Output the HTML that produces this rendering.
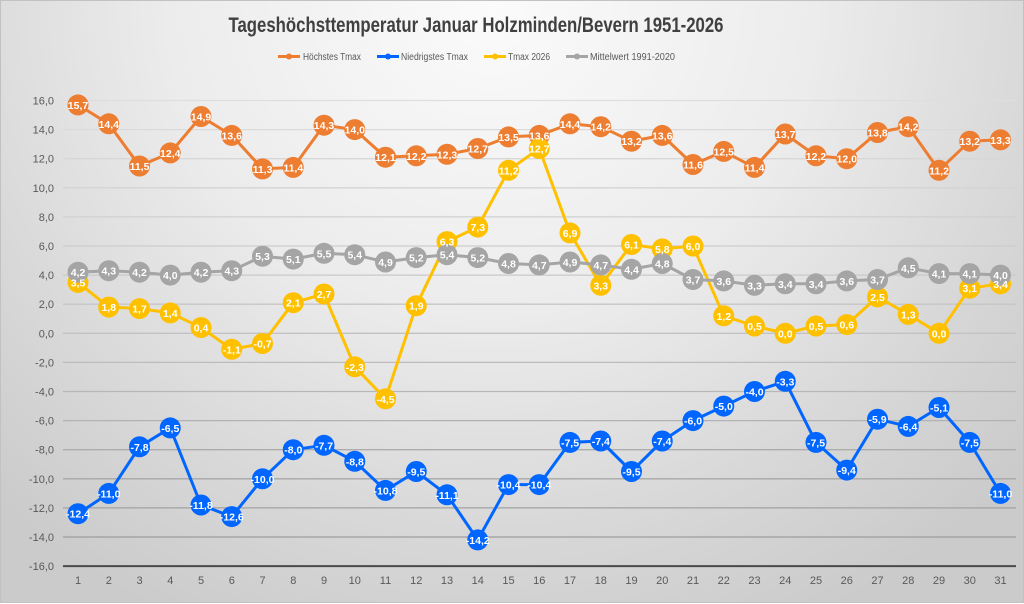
<!DOCTYPE html>
<html><head><meta charset="utf-8"><style>
html,body{margin:0;padding:0;}
body{width:1024px;height:603px;overflow:hidden;}
#c{position:relative;width:1022px;height:601px;border:1px solid #c2c2c2;background:radial-gradient(ellipse 70% 115% at 48% 0%,#fbfbfb 0%,#ececec 45%,#d6d6d6 80%,#cbcbcb 100%);}
svg{position:absolute;left:0;top:0;}
text{font-family:"Liberation Sans",sans-serif;}
.yl{font-size:11px;fill:#595959;text-anchor:end;}
.xl{font-size:11px;fill:#595959;text-anchor:middle;}
.lg{font-size:10px;fill:#595959;}
.dl{font-size:10.5px;font-weight:bold;fill:#fff;text-anchor:middle;}
</style></head><body><div id="c">
<svg width="1024" height="603" viewBox="0 0 1024 603">
<defs>
<linearGradient id="gg" gradientUnits="userSpaceOnUse" x1="0" y1="99" x2="0" y2="540">
<stop offset="0" stop-color="#dedede"/><stop offset="0.5" stop-color="#c4c4c4"/><stop offset="1" stop-color="#9c9c9c"/>
</linearGradient>
</defs>
<text x="475" y="31" font-size="21" font-weight="bold" fill="#404040" text-anchor="middle" textLength="495" lengthAdjust="spacingAndGlyphs">Tageshöchsttemperatur Januar Holzminden/Bevern 1951-2026</text>
<!-- legend -->
<line x1="277" y1="55.5" x2="299" y2="55.5" stroke="#ED7D31" stroke-width="3"/><circle cx="288" cy="55.5" r="3" fill="#ED7D31"/>
<text class="lg" x="302" y="59" textLength="58" lengthAdjust="spacingAndGlyphs">Höchstes Tmax</text>
<line x1="376" y1="55.5" x2="398" y2="55.5" stroke="#0066FF" stroke-width="3"/><circle cx="387" cy="55.5" r="3" fill="#0066FF"/>
<text class="lg" x="400" y="59" textLength="67" lengthAdjust="spacingAndGlyphs">Niedrigstes Tmax</text>
<line x1="483" y1="55.5" x2="505" y2="55.5" stroke="#FFC000" stroke-width="3"/><circle cx="494" cy="55.5" r="3" fill="#FFC000"/>
<text class="lg" x="507" y="59" textLength="42" lengthAdjust="spacingAndGlyphs">Tmax 2026</text>
<line x1="565" y1="55.5" x2="587" y2="55.5" stroke="#A5A5A5" stroke-width="3"/><circle cx="576" cy="55.5" r="3" fill="#A5A5A5"/>
<text class="lg" x="589" y="59" textLength="85" lengthAdjust="spacingAndGlyphs">Mittelwert 1991-2020</text>
<!-- grid -->
<g stroke="url(#gg)" stroke-width="1.3">
<line x1="62" x2="1015" y1="99.5" y2="99.5"/>
<line x1="62" x2="1015" y1="128.6" y2="128.6"/>
<line x1="62" x2="1015" y1="157.7" y2="157.7"/>
<line x1="62" x2="1015" y1="186.8" y2="186.8"/>
<line x1="62" x2="1015" y1="215.9" y2="215.9"/>
<line x1="62" x2="1015" y1="245" y2="245"/>
<line x1="62" x2="1015" y1="274.1" y2="274.1"/>
<line x1="62" x2="1015" y1="303.2" y2="303.2"/>
<line x1="62" x2="1015" y1="332.3" y2="332.3"/>
<line x1="62" x2="1015" y1="361.4" y2="361.4"/>
<line x1="62" x2="1015" y1="390.5" y2="390.5"/>
<line x1="62" x2="1015" y1="419.6" y2="419.6"/>
<line x1="62" x2="1015" y1="448.7" y2="448.7"/>
<line x1="62" x2="1015" y1="477.8" y2="477.8"/>
<line x1="62" x2="1015" y1="506.9" y2="506.9"/>
<line x1="62" x2="1015" y1="536" y2="536"/>
</g>
<line x1="62" x2="1015" y1="565.1" y2="565.1" stroke="#4a4a4a" stroke-width="2"/>
<!-- y labels -->
<g class="yl">
<text x="53" y="103.5">16,0</text>
<text x="53" y="132.6">14,0</text>
<text x="53" y="161.7">12,0</text>
<text x="53" y="190.8">10,0</text>
<text x="53" y="219.9">8,0</text>
<text x="53" y="249">6,0</text>
<text x="53" y="278.1">4,0</text>
<text x="53" y="307.2">2,0</text>
<text x="53" y="336.3">0,0</text>
<text x="53" y="365.4">-2,0</text>
<text x="53" y="394.5">-4,0</text>
<text x="53" y="423.6">-6,0</text>
<text x="53" y="452.7">-8,0</text>
<text x="53" y="481.8">-10,0</text>
<text x="53" y="510.9">-12,0</text>
<text x="53" y="540">-14,0</text>
<text x="53" y="569.1">-16,0</text>
</g>
<!-- x labels -->
<g class="xl">
<text x="77" y="583">1</text><text x="107.75" y="583">2</text><text x="138.5" y="583">3</text><text x="169.25" y="583">4</text><text x="200" y="583">5</text><text x="230.75" y="583">6</text><text x="261.5" y="583">7</text><text x="292.25" y="583">8</text><text x="323" y="583">9</text><text x="353.75" y="583">10</text><text x="384.5" y="583">11</text><text x="415.25" y="583">12</text><text x="446" y="583">13</text><text x="476.75" y="583">14</text><text x="507.5" y="583">15</text><text x="538.25" y="583">16</text><text x="569" y="583">17</text><text x="599.75" y="583">18</text><text x="630.5" y="583">19</text><text x="661.25" y="583">20</text><text x="692" y="583">21</text><text x="722.75" y="583">22</text><text x="753.5" y="583">23</text><text x="784.25" y="583">24</text><text x="815" y="583">25</text><text x="845.75" y="583">26</text><text x="876.5" y="583">27</text><text x="907.25" y="583">28</text><text x="938" y="583">29</text><text x="968.75" y="583">30</text><text x="999.5" y="583">31</text>
</g>
<!-- Orange series -->
<g fill="#ED7D31">
<polyline fill="none" stroke="#ED7D31" stroke-width="3" stroke-linejoin="round" points="77,103.9 107.75,122.8 138.5,165 169.25,151.9 200,115.5 230.75,134.4 261.5,167.9 292.25,166.4 323,124.2 353.75,128.6 384.5,156.2 415.25,154.8 446,153.3 476.75,147.5 507.5,135.9 538.25,134.4 569,122.8 599.75,125.7 630.5,140.2 661.25,134.4 692,163.5 722.75,150.4 753.5,166.4 784.25,133 815,154.8 845.75,157.7 876.5,131.5 907.25,125.7 938,169.3 968.75,140.2 999.5,138.8"/>
<circle cx="77" cy="103.9" r="10.5"/><circle cx="107.75" cy="122.8" r="10.5"/><circle cx="138.5" cy="165" r="10.5"/><circle cx="169.25" cy="151.9" r="10.5"/><circle cx="200" cy="115.5" r="10.5"/><circle cx="230.75" cy="134.4" r="10.5"/><circle cx="261.5" cy="167.9" r="10.5"/><circle cx="292.25" cy="166.4" r="10.5"/><circle cx="323" cy="124.2" r="10.5"/><circle cx="353.75" cy="128.6" r="10.5"/><circle cx="384.5" cy="156.2" r="10.5"/><circle cx="415.25" cy="154.8" r="10.5"/><circle cx="446" cy="153.3" r="10.5"/><circle cx="476.75" cy="147.5" r="10.5"/><circle cx="507.5" cy="135.9" r="10.5"/><circle cx="538.25" cy="134.4" r="10.5"/><circle cx="569" cy="122.8" r="10.5"/><circle cx="599.75" cy="125.7" r="10.5"/><circle cx="630.5" cy="140.2" r="10.5"/><circle cx="661.25" cy="134.4" r="10.5"/><circle cx="692" cy="163.5" r="10.5"/><circle cx="722.75" cy="150.4" r="10.5"/><circle cx="753.5" cy="166.4" r="10.5"/><circle cx="784.25" cy="133" r="10.5"/><circle cx="815" cy="154.8" r="10.5"/><circle cx="845.75" cy="157.7" r="10.5"/><circle cx="876.5" cy="131.5" r="10.5"/><circle cx="907.25" cy="125.7" r="10.5"/><circle cx="938" cy="169.3" r="10.5"/><circle cx="968.75" cy="140.2" r="10.5"/><circle cx="999.5" cy="138.8" r="10.5"/>
</g>
<!-- Blue series -->
<g fill="#0066FF">
<polyline fill="none" stroke="#0066FF" stroke-width="3" stroke-linejoin="round" points="77,512.7 107.75,492.4 138.5,445.8 169.25,426.9 200,504 230.75,515.6 261.5,477.8 292.25,448.7 323,444.3 353.75,460.3 384.5,489.4 415.25,470.5 446,493.8 476.75,538.9 507.5,483.6 538.25,483.6 569,441.4 599.75,440 630.5,470.5 661.25,440 692,419.6 722.75,405.1 753.5,390.5 784.25,380.3 815,441.4 845.75,469.1 876.5,418.2 907.25,425.4 938,406.5 968.75,441.4 999.5,492.4"/>
<circle cx="77" cy="512.7" r="10.5"/><circle cx="107.75" cy="492.4" r="10.5"/><circle cx="138.5" cy="445.8" r="10.5"/><circle cx="169.25" cy="426.9" r="10.5"/><circle cx="200" cy="504" r="10.5"/><circle cx="230.75" cy="515.6" r="10.5"/><circle cx="261.5" cy="477.8" r="10.5"/><circle cx="292.25" cy="448.7" r="10.5"/><circle cx="323" cy="444.3" r="10.5"/><circle cx="353.75" cy="460.3" r="10.5"/><circle cx="384.5" cy="489.4" r="10.5"/><circle cx="415.25" cy="470.5" r="10.5"/><circle cx="446" cy="493.8" r="10.5"/><circle cx="476.75" cy="538.9" r="10.5"/><circle cx="507.5" cy="483.6" r="10.5"/><circle cx="538.25" cy="483.6" r="10.5"/><circle cx="569" cy="441.4" r="10.5"/><circle cx="599.75" cy="440" r="10.5"/><circle cx="630.5" cy="470.5" r="10.5"/><circle cx="661.25" cy="440" r="10.5"/><circle cx="692" cy="419.6" r="10.5"/><circle cx="722.75" cy="405.1" r="10.5"/><circle cx="753.5" cy="390.5" r="10.5"/><circle cx="784.25" cy="380.3" r="10.5"/><circle cx="815" cy="441.4" r="10.5"/><circle cx="845.75" cy="469.1" r="10.5"/><circle cx="876.5" cy="418.2" r="10.5"/><circle cx="907.25" cy="425.4" r="10.5"/><circle cx="938" cy="406.5" r="10.5"/><circle cx="968.75" cy="441.4" r="10.5"/><circle cx="999.5" cy="492.4" r="10.5"/>
</g>
<!-- Yellow series -->
<g fill="#FFC000">
<polyline fill="none" stroke="#FFC000" stroke-width="3" stroke-linejoin="round" points="77,281.4 107.75,306.1 138.5,307.6 169.25,311.9 200,326.5 230.75,348.3 261.5,342.5 292.25,301.7 323,293 353.75,365.8 384.5,397.8 415.25,304.7 446,240.6 476.75,226.1 507.5,169.3 538.25,147.5 569,231.9 599.75,284.3 630.5,243.5 661.25,247.9 692,245 722.75,314.8 753.5,325 784.25,332.3 815,325 845.75,323.6 876.5,295.9 907.25,313.4 938,332.3 968.75,287.2 999.5,282.8"/>
<circle cx="77" cy="281.4" r="10.5"/><circle cx="107.75" cy="306.1" r="10.5"/><circle cx="138.5" cy="307.6" r="10.5"/><circle cx="169.25" cy="311.9" r="10.5"/><circle cx="200" cy="326.5" r="10.5"/><circle cx="230.75" cy="348.3" r="10.5"/><circle cx="261.5" cy="342.5" r="10.5"/><circle cx="292.25" cy="301.7" r="10.5"/><circle cx="323" cy="293" r="10.5"/><circle cx="353.75" cy="365.8" r="10.5"/><circle cx="384.5" cy="397.8" r="10.5"/><circle cx="415.25" cy="304.7" r="10.5"/><circle cx="446" cy="240.6" r="10.5"/><circle cx="476.75" cy="226.1" r="10.5"/><circle cx="507.5" cy="169.3" r="10.5"/><circle cx="538.25" cy="147.5" r="10.5"/><circle cx="569" cy="231.9" r="10.5"/><circle cx="599.75" cy="284.3" r="10.5"/><circle cx="630.5" cy="243.5" r="10.5"/><circle cx="661.25" cy="247.9" r="10.5"/><circle cx="692" cy="245" r="10.5"/><circle cx="722.75" cy="314.8" r="10.5"/><circle cx="753.5" cy="325" r="10.5"/><circle cx="784.25" cy="332.3" r="10.5"/><circle cx="815" cy="325" r="10.5"/><circle cx="845.75" cy="323.6" r="10.5"/><circle cx="876.5" cy="295.9" r="10.5"/><circle cx="907.25" cy="313.4" r="10.5"/><circle cx="938" cy="332.3" r="10.5"/><circle cx="968.75" cy="287.2" r="10.5"/><circle cx="999.5" cy="282.8" r="10.5"/>
</g>
<!-- Grey series -->
<g fill="#A5A5A5">
<polyline fill="none" stroke="#A5A5A5" stroke-width="3" stroke-linejoin="round" points="77,271.2 107.75,269.7 138.5,271.2 169.25,274.1 200,271.2 230.75,269.7 261.5,255.2 292.25,258.1 323,252.3 353.75,253.7 384.5,261 415.25,256.6 446,253.7 476.75,256.6 507.5,262.5 538.25,263.9 569,261 599.75,263.9 630.5,268.3 661.25,262.5 692,278.5 722.75,279.9 753.5,284.3 784.25,282.8 815,282.8 845.75,279.9 876.5,278.5 907.25,266.8 938,272.6 968.75,272.6 999.5,274.1"/>
<circle cx="77" cy="271.2" r="10.5"/><circle cx="107.75" cy="269.7" r="10.5"/><circle cx="138.5" cy="271.2" r="10.5"/><circle cx="169.25" cy="274.1" r="10.5"/><circle cx="200" cy="271.2" r="10.5"/><circle cx="230.75" cy="269.7" r="10.5"/><circle cx="261.5" cy="255.2" r="10.5"/><circle cx="292.25" cy="258.1" r="10.5"/><circle cx="323" cy="252.3" r="10.5"/><circle cx="353.75" cy="253.7" r="10.5"/><circle cx="384.5" cy="261" r="10.5"/><circle cx="415.25" cy="256.6" r="10.5"/><circle cx="446" cy="253.7" r="10.5"/><circle cx="476.75" cy="256.6" r="10.5"/><circle cx="507.5" cy="262.5" r="10.5"/><circle cx="538.25" cy="263.9" r="10.5"/><circle cx="569" cy="261" r="10.5"/><circle cx="599.75" cy="263.9" r="10.5"/><circle cx="630.5" cy="268.3" r="10.5"/><circle cx="661.25" cy="262.5" r="10.5"/><circle cx="692" cy="278.5" r="10.5"/><circle cx="722.75" cy="279.9" r="10.5"/><circle cx="753.5" cy="284.3" r="10.5"/><circle cx="784.25" cy="282.8" r="10.5"/><circle cx="815" cy="282.8" r="10.5"/><circle cx="845.75" cy="279.9" r="10.5"/><circle cx="876.5" cy="278.5" r="10.5"/><circle cx="907.25" cy="266.8" r="10.5"/><circle cx="938" cy="272.6" r="10.5"/><circle cx="968.75" cy="272.6" r="10.5"/><circle cx="999.5" cy="274.1" r="10.5"/>
</g>
<!-- Labels orange -->
<g class="dl">
<text x="77" y="107.9">15,7</text><text x="107.75" y="126.8">14,4</text><text x="138.5" y="169">11,5</text><text x="169.25" y="155.9">12,4</text><text x="200" y="119.5">14,9</text><text x="230.75" y="138.4">13,6</text><text x="261.5" y="171.9">11,3</text><text x="292.25" y="170.4">11,4</text><text x="323" y="128.2">14,3</text><text x="353.75" y="132.6">14,0</text><text x="384.5" y="160.2">12,1</text><text x="415.25" y="158.8">12,2</text><text x="446" y="157.3">12,3</text><text x="476.75" y="151.5">12,7</text><text x="507.5" y="139.9">13,5</text><text x="538.25" y="138.4">13,6</text><text x="569" y="126.8">14,4</text><text x="599.75" y="129.7">14,2</text><text x="630.5" y="144.2">13,2</text><text x="661.25" y="138.4">13,6</text><text x="692" y="167.5">11,6</text><text x="722.75" y="154.4">12,5</text><text x="753.5" y="170.4">11,4</text><text x="784.25" y="137">13,7</text><text x="815" y="158.8">12,2</text><text x="845.75" y="161.7">12,0</text><text x="876.5" y="135.5">13,8</text><text x="907.25" y="129.7">14,2</text><text x="938" y="173.3">11,2</text><text x="968.75" y="144.2">13,2</text><text x="999.5" y="142.8">13,3</text>
</g>
<!-- Labels blue -->
<g class="dl">
<text x="77" y="516.7">-12,4</text><text x="107.75" y="496.4">-11,0</text><text x="138.5" y="449.8">-7,8</text><text x="169.25" y="430.9">-6,5</text><text x="200" y="508">-11,8</text><text x="230.75" y="519.6">-12,6</text><text x="261.5" y="481.8">-10,0</text><text x="292.25" y="452.7">-8,0</text><text x="323" y="448.3">-7,7</text><text x="353.75" y="464.3">-8,8</text><text x="384.5" y="493.4">-10,8</text><text x="415.25" y="474.5">-9,5</text><text x="446" y="497.8">-11,1</text><text x="476.75" y="542.9">-14,2</text><text x="507.5" y="487.6">-10,4</text><text x="538.25" y="487.6">-10,4</text><text x="569" y="445.4">-7,5</text><text x="599.75" y="444">-7,4</text><text x="630.5" y="474.5">-9,5</text><text x="661.25" y="444">-7,4</text><text x="692" y="423.6">-6,0</text><text x="722.75" y="409.1">-5,0</text><text x="753.5" y="394.5">-4,0</text><text x="784.25" y="384.3">-3,3</text><text x="815" y="445.4">-7,5</text><text x="845.75" y="473.1">-9,4</text><text x="876.5" y="422.2">-5,9</text><text x="907.25" y="429.4">-6,4</text><text x="938" y="410.5">-5,1</text><text x="968.75" y="445.4">-7,5</text><text x="999.5" y="496.4">-11,0</text>
</g>
<!-- Labels yellow -->
<g class="dl">
<text x="77" y="285.4">3,5</text><text x="107.75" y="310.1">1,8</text><text x="138.5" y="311.6">1,7</text><text x="169.25" y="315.9">1,4</text><text x="200" y="330.5">0,4</text><text x="230.75" y="352.3">-1,1</text><text x="261.5" y="346.5">-0,7</text><text x="292.25" y="305.7">2,1</text><text x="323" y="297">2,7</text><text x="353.75" y="369.8">-2,3</text><text x="384.5" y="401.8">-4,5</text><text x="415.25" y="308.7">1,9</text><text x="446" y="244.6">6,3</text><text x="476.75" y="230.1">7,3</text><text x="507.5" y="173.3">11,2</text><text x="538.25" y="151.5">12,7</text><text x="569" y="235.9">6,9</text><text x="599.75" y="288.3">3,3</text><text x="630.5" y="247.5">6,1</text><text x="661.25" y="251.9">5,8</text><text x="692" y="249">6,0</text><text x="722.75" y="318.8">1,2</text><text x="753.5" y="329">0,5</text><text x="784.25" y="336.3">0,0</text><text x="815" y="329">0,5</text><text x="845.75" y="327.6">0,6</text><text x="876.5" y="299.9">2,5</text><text x="907.25" y="317.4">1,3</text><text x="938" y="336.3">0,0</text><text x="968.75" y="291.2">3,1</text><text x="999.5" y="286.8">3,4</text>
</g>
<!-- Labels grey -->
<g class="dl">
<text x="77" y="275.2">4,2</text><text x="107.75" y="273.7">4,3</text><text x="138.5" y="275.2">4,2</text><text x="169.25" y="278.1">4,0</text><text x="200" y="275.2">4,2</text><text x="230.75" y="273.7">4,3</text><text x="261.5" y="259.2">5,3</text><text x="292.25" y="262.1">5,1</text><text x="323" y="256.3">5,5</text><text x="353.75" y="257.7">5,4</text><text x="384.5" y="265">4,9</text><text x="415.25" y="260.6">5,2</text><text x="446" y="257.7">5,4</text><text x="476.75" y="260.6">5,2</text><text x="507.5" y="266.5">4,8</text><text x="538.25" y="267.9">4,7</text><text x="569" y="265">4,9</text><text x="599.75" y="267.9">4,7</text><text x="630.5" y="272.3">4,4</text><text x="661.25" y="266.5">4,8</text><text x="692" y="282.5">3,7</text><text x="722.75" y="283.9">3,6</text><text x="753.5" y="288.3">3,3</text><text x="784.25" y="286.8">3,4</text><text x="815" y="286.8">3,4</text><text x="845.75" y="283.9">3,6</text><text x="876.5" y="282.5">3,7</text><text x="907.25" y="270.8">4,5</text><text x="938" y="276.6">4,1</text><text x="968.75" y="276.6">4,1</text><text x="999.5" y="278.1">4,0</text>
</g>
</svg>
</div></body></html>
